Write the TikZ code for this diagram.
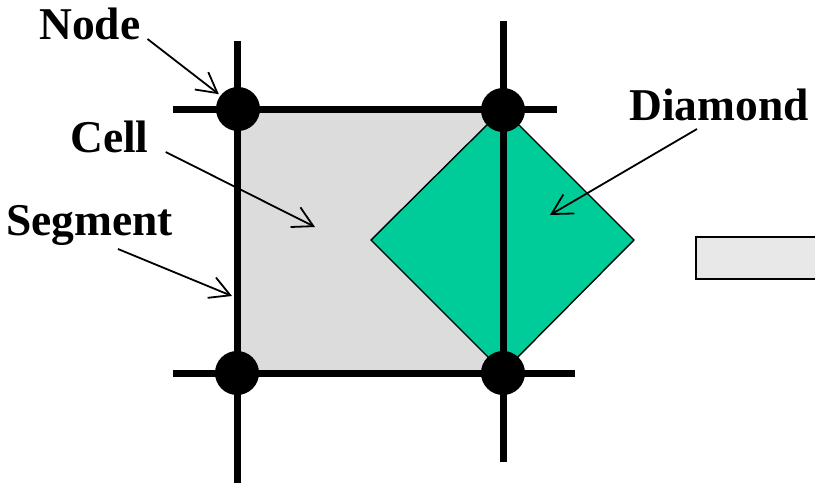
\documentclass[tikz,border=0pt]{standalone}
\usepackage{fontspec}
\setmainfont{Liberation Serif}
\usetikzlibrary{arrows.meta,positioning}
\definecolor{cellgray}{HTML}{DCDCDC}
\definecolor{boxgray}{HTML}{E8E8E8}
\definecolor{diamondgreen}{HTML}{00CC99}

\begin{document}
\begin{tikzpicture}[
  x=1pt, y=-1pt,
  font=\fontsize{45.5}{50}\selectfont\bfseries,
  seg/.style={line width=7pt},
  dot/.style={circle, fill=black, inner sep=0pt, minimum size=44pt},
  lbl/.style={inner sep=0pt, anchor=base west},
  arr/.style={-{Straight Barb[length=20pt,width=22pt]}, line width=1.8pt}
]
\useasboundingbox (0,0) rectangle (815,490);
% cell and diamond
\fill[cellgray] (237,109) rectangle (503,373);
\filldraw[fill=diamondgreen, line width=1.4pt] (371,240) -- (503,109) -- (634,240) -- (503,372) -- cycle;
\filldraw[fill=boxgray, line width=2.5pt] (696,237) rectangle (840,279);
% segments
\draw[seg] (173,109) -- (557,109);
\draw[seg] (173,373) -- (575,373);
\draw[seg] (237,41) -- (237,483);
\draw[seg] (503,21) -- (503,462);
% nodes
\node[dot] (nTL) at (238,109) {};
\node[dot] (nTR) at (503,110) {};
\node[dot] (nBL) at (237,373) {};
\node[dot] (nBR) at (503,373) {};
% labels
\node[lbl] (tNode) at (39,39) {Node};
\node[lbl] (tCell) at (70,152) {Cell};
\node[lbl] (tSeg) at (6,235) {Segment};
\node[lbl] (tDia) at (629,120) {Diamond};
\coordinate (cellPt) at (315,227);
\coordinate (segPt) at (232,296);
\coordinate (diaPt) at (550,215);
\draw[arr, shorten >=2pt] ([xshift=7pt]tNode.base east) -- (nTL);
\draw[arr] ([xshift=17pt]tCell.base east) -- (cellPt);
\draw[arr] ([xshift=112pt,yshift=-14pt]tSeg.base west) -- (segPt);
\draw[arr] ([xshift=68pt,yshift=-9pt]tDia.base west) -- (diaPt);
\end{tikzpicture}
\end{document}
